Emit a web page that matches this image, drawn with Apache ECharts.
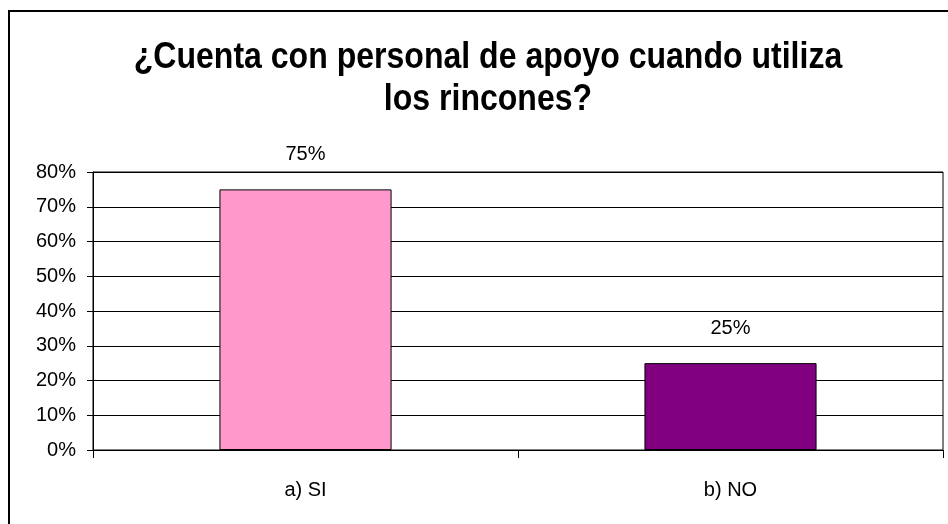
<!DOCTYPE html>
<html>
<head>
<meta charset="utf-8">
<script src="https://cdn.jsdelivr.net/npm/echarts@6/dist/echarts.min.js"></script>
<style>html,body{margin:0;padding:0;background:#fff;}#c{width:948px;height:524px;}</style>
</head>
<body>
<div id="c"></div>
<script>
const titleText = '¿Cuenta con personal de apoyo cuando utiliza\nlos rincones?';
const categories = ['a) SI', 'b) NO'];
const values = [75, 25];
const colors = ['#FF99CC', '#800080'];
const yTicks = [0, 10, 20, 30, 40, 50, 60, 70, 80];

const chart = echarts.init(document.getElementById('c'), null, {renderer: 'canvas'});
chart.setOption({
  animation: false,
  backgroundColor: '#fff',
  graphic: [{
    type: 'rect',
    shape: {x: 9, y: 11, width: 1000, height: 1000},
    style: {fill: 'none', stroke: '#000', lineWidth: 2},
    silent: true
  }, {
    type: 'text',
    x: 488, y: 37,
    scaleX: 0.89, scaleY: 1,
    style: {
      x: 0, y: 0,
      text: titleText,
      textAlign: 'center',
      textVerticalAlign: 'top',
      font: 'bold 36px "Liberation Sans", Arial, sans-serif',
      lineHeight: 42,
      fill: '#000'
    },
    silent: true
  }],
  grid: {
    left: 93, right: 5, top: 172, bottom: 74,
    show: true, borderColor: '#000', borderWidth: 1,
    containLabel: false
  },
  xAxis: {
    type: 'category',
    data: categories,
    axisLine: {lineStyle: {color: '#000', width: 1}},
    axisTick: {show: true, length: 8, interval: 0, alignWithLabel: false, lineStyle: {color: '#000'}},
    axisLabel: {
      margin: 30, color: '#000', fontSize: 20,
      fontFamily: '"Liberation Sans", Arial, sans-serif'
    }
  },
  yAxis: {
    type: 'value',
    min: yTicks[0], max: yTicks[yTicks.length - 1], interval: 10,
    axisLine: {show: true, lineStyle: {color: '#000', width: 1}},
    axisTick: {show: true, length: 6, lineStyle: {color: '#000'}},
    splitLine: {show: true, lineStyle: {color: '#000', width: 1}},
    axisLabel: {
      margin: 17, color: '#000', fontSize: 20,
      fontFamily: '"Liberation Sans", Arial, sans-serif',
      formatter: v => v + '%'
    }
  },
  series: [{
    type: 'bar',
    data: values.map((v, i) => ({value: v, itemStyle: {color: colors[i]}})),
    barWidth: '40.5%',
    itemStyle: {borderColor: '#000', borderWidth: 1},
    label: {
      show: true, position: 'top', distance: 25,
      formatter: p => p.value + '%',
      color: '#000', fontSize: 20,
      fontFamily: '"Liberation Sans", Arial, sans-serif'
    }
  }]
});
</script>
</body>
</html>
